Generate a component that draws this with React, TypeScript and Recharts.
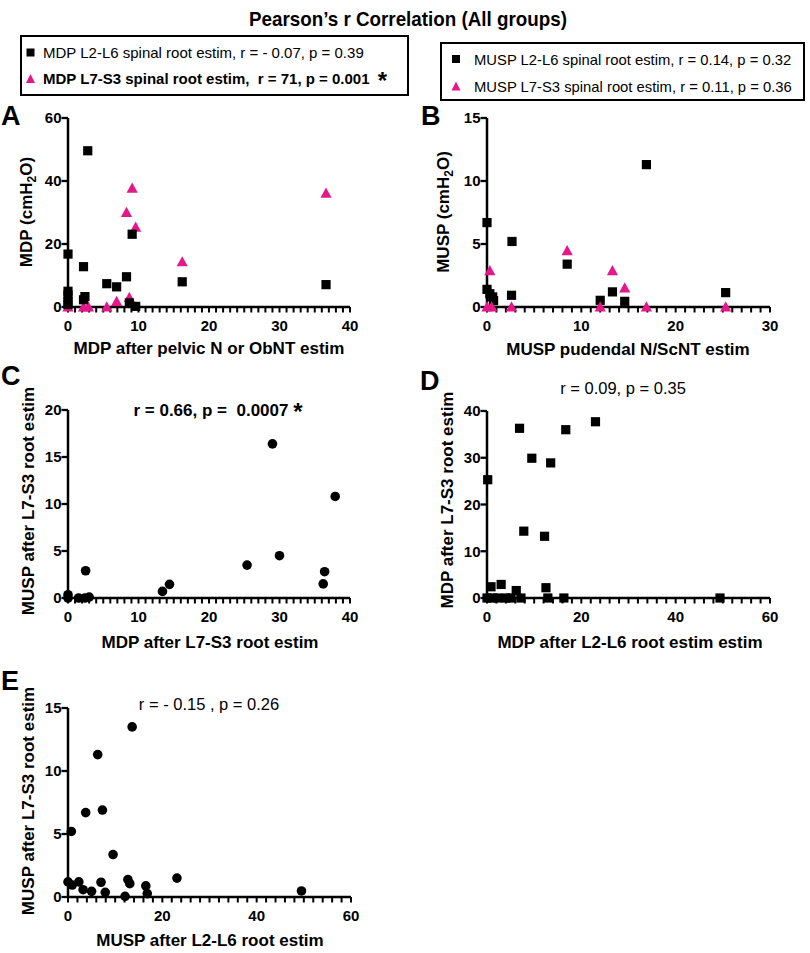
import { Scatter, ScatterChart, XAxis, YAxis } from "recharts";

const PINK = "#e5188b";
const FONT = "Arial, 'Liberation Sans', Helvetica, sans-serif";

// Panel A: MDP vs MDP after pelvic N / ObNT estim
const aL2L6X = [2.8, 0, 2.2, 5.5, 6.9, 8.3, 9.1, 16.2, 36.6, 0, 0, 0, 0, 2.4, 2.2, 8.7, 9.6];
const aL2L6Y = [49.6, 16.8, 12.8, 7.4, 6.4, 9.6, 23.1, 8.0, 7.1, 5.0, 3.8, 1.8, 0.8, 3.3, 2.3, 1.3, 0.2];
const aL7S3X = [9.1, 8.3, 9.6, 16.2, 36.6, 6.9, 8.7, 5.5, 2.2, 2.9, 0];
const aL7S3Y = [37.7, 30.0, 25.3, 14.3, 36.1, 1.7, 3.0, 0, 0, 0, 0];

// Panel B: MUSP vs MUSP pudendal N / ScNT estim
const bL2L6X = [0, 0, 0.3, 0.6, 0.7, 2.6, 2.65, 8.5, 12.0, 13.3, 14.6, 16.9, 25.3];
const bL2L6Y = [6.7, 1.4, 1.05, 0.8, 0.5, 0.93, 5.2, 3.4, 0.53, 1.2, 0.45, 11.3, 1.14];
const bL7S3X = [0.3, 0, 0.5, 2.6, 8.5, 12.0, 13.3, 14.6, 16.9, 25.3];
const bL7S3Y = [2.87, 0, 0, 0, 4.46, 0, 2.87, 1.5, 0, 0];

// Panel C
const cX = [0, 0, 1.5, 2.4, 3.0, 2.5, 13.4, 14.4, 25.4, 30.0, 36.2, 36.4, 37.9, 29.0];
const cY = [0.35, 0, 0, 0, 0.1, 2.9, 0.7, 1.45, 3.5, 4.5, 1.5, 2.8, 10.8, 16.4];

// Panel D
const dX = [0.15, 6.9, 9.5, 13.5, 16.7, 23.0, 7.8, 12.2, 0.85, 3.0, 6.2, 12.5, 0, 1.2, 2.3, 4.0, 5.1, 7.2, 12.9, 16.3, 49.4];
const dY = [25.3, 36.3, 29.9, 28.9, 36.0, 37.7, 14.3, 13.2, 2.4, 2.9, 1.6, 2.2, 0, 0, 0, 0, 0, 0, 0, 0, 0];

// Panel E
const eX = [0, 0.7, 0.9, 2.3, 3.2, 3.75, 5.0, 6.3, 7.0, 7.3, 7.9, 9.55, 12.1, 12.7, 13.1, 13.6, 16.5, 16.8, 23.1, 49.5];
const eY = [1.2, 5.2, 0.95, 1.2, 0.58, 6.7, 0.45, 11.3, 1.17, 6.9, 0.37, 3.37, 0.05, 1.38, 1.06, 13.5, 0.88, 0.27, 1.5, 0.48];

// axis ticks (majors are labelled, minors are just marks)
const x40Major = [0, 10, 20, 30, 40];
const x30Major = [0, 10, 20, 30];
const x60Major = [0, 20, 40, 60];
const yTicksA = [0, 20, 40, 60];
const yTicks15 = [0, 5, 10, 15];
const yTicksC = [0, 5, 10, 15, 20];
const yTicksD = [0, 10, 20, 30, 40];

const zip = (xs: number[], ys: number[]) => xs.map((x, i) => ({ x, y: ys[i] }));
const steps = (max: number, step: number) =>
  Array.from({ length: Math.round(max / step) + 1 }, (_, i) => i * step);

const Square = (p: any) => (
  <rect x={p.cx - 4.6} y={p.cy - 4.6} width={9.2} height={9.2} fill="#000" />
);
const Triangle = (p: any) => (
  <polygon
    points={`${p.cx},${p.cy - 5.8} ${p.cx + 5.6},${p.cy + 4.4} ${p.cx - 5.6},${p.cy + 4.4}`}
    fill={PINK}
  />
);
const Dot = (p: any) => <circle cx={p.cx} cy={p.cy} r={4.8} fill="#000" />;

// default axis sizes of recharts
const XH = 30;
const YW = 60;
const tickFont = { fill: "#000", fontSize: 15, fontWeight: 700, fontFamily: FONT };

interface Series {
  name: string;
  data: { x: number; y: number }[];
  shape: (p: any) => any;
}

interface PanelProps {
  box: number[]; // left, top, width, height
  plot: number[]; // left, top, right, bottom
  xMajor: number[];
  xStep: number;
  yTicks: number[];
  series: Series[];
}

function Panel({ box, plot, xMajor, xStep, yTicks, series }: PanelProps) {
  const [left, top, width, height] = box;
  const [pl, pt, pr, pb] = plot;
  const xMax = xMajor[xMajor.length - 1];
  const yMax = yTicks[yTicks.length - 1];

  return (
    <div style={{ position: "absolute", left, top, width, height }}>
      <ScatterChart
        width={width}
        height={height}
        margin={{
          left: pl - left - YW,
          top: pt - top,
          right: left + width - pr,
          bottom: top + height - pb - XH,
        }}
      >
        <XAxis
          type="number"
          dataKey="x"
          domain={[0, xMax]}
          ticks={steps(xMax, xStep)}
          interval={0}
          tickSize={5.5}
          tickMargin={8}
          tickLine={{ stroke: "#000", strokeWidth: 2 }}
          tick={tickFont}
          tickFormatter={(v: number) => (xMajor.includes(v) ? String(v) : "")}
          axisLine={{ stroke: "#000", strokeWidth: 2.5 }}
        />
        <YAxis
          type="number"
          dataKey="y"
          domain={[0, yMax]}
          ticks={yTicks}
          interval={0}
          tickSize={6.5}
          tickMargin={0}
          tickLine={{ stroke: "#000", strokeWidth: 2.3 }}
          tick={tickFont}
          axisLine={{ stroke: "#000", strokeWidth: 2.5 }}
        />
        {series.map((s) => (
          <Scatter key={s.name} name={s.name} data={s.data} shape={s.shape} isAnimationActive={false} />
        ))}
      </ScatterChart>
    </div>
  );
}

const txt = { fontFamily: FONT, fill: "#000", whiteSpace: "pre" as const };

function YLabel({ x, y, children }: { x: number; y: number; children: any }) {
  return (
    <text x={x} y={y} transform={`rotate(-90 ${x} ${y})`} textAnchor="middle" fontSize={17} fontWeight="bold" style={txt}>
      {children}
    </text>
  );
}

function XLabel({ x, y, children }: { x: number; y: number; children: any }) {
  return (
    <text x={x} y={y} textAnchor="middle" fontSize={17} fontWeight="bold" style={txt}>
      {children}
    </text>
  );
}

function Letter({ x, y, children }: { x: number; y: number; children: any }) {
  return (
    <text x={x} y={y} fontSize={27} fontWeight="bold" style={txt}>
      {children}
    </text>
  );
}

export default function App() {
  return (
    <div style={{ position: "relative", width: 810, height: 953, background: "#fff", fontFamily: FONT }}>
      <style>{"body{margin:0}"}</style>

      <svg width={810} height={953} style={{ position: "absolute", left: 0, top: 0 }}>
        <text x={408} y={26} textAnchor="middle" fontSize={21} fontWeight="bold" textLength={318} lengthAdjust="spacingAndGlyphs" style={txt}>
          Pearson’s r Correlation (All groups)
        </text>

        {/* legend 1 */}
        <rect x={21} y={36} width={387} height={59} fill="none" stroke="#000" strokeWidth={2} />
        <rect x={26.5} y={48.5} width={8} height={8} fill="#000" />
        <text x={43} y={58} fontSize={15} style={txt}>
          MDP L2-L6 spinal root estim, r = - 0.07, p = 0.39
        </text>
        <polygon points="30.5,74 35,83 26,83" fill={PINK} />
        <text x={43} y={84} fontSize={15} fontWeight="bold" style={txt}>
          {"MDP L7-S3 spinal root estim,  r = 71, p = 0.001  "}
          <tspan fontSize={24} dy={5}>*</tspan>
        </text>

        {/* legend 2 */}
        <rect x={441} y={43} width={363} height={57} fill="none" stroke="#000" strokeWidth={2} />
        <rect x={452} y={55} width={8} height={8} fill="#000" />
        <text x={474} y={64.5} fontSize={14.8} style={txt}>
          MUSP L2-L6 spinal root estim, r = 0.14, p = 0.32
        </text>
        <polygon points="456,81.5 460.5,90.5 451.5,90.5" fill={PINK} />
        <text x={474} y={91.5} fontSize={14.8} style={txt}>
          MUSP L7-S3 spinal root estim, r = 0.11, p = 0.36
        </text>

        {/* panel letters */}
        <Letter x={1} y={125}>A</Letter>
        <Letter x={421} y={125}>B</Letter>
        <Letter x={1} y={385}>C</Letter>
        <Letter x={420} y={390}>D</Letter>
        <Letter x={1} y={690}>E</Letter>

        {/* axis titles */}
        <YLabel x={32} y={212}>
          MDP (cmH<tspan fontSize={12} dy={4}>2</tspan>
          <tspan dy={-4}>O)</tspan>
        </YLabel>
        <XLabel x={209} y={354}>MDP after pelvic N or ObNT estim</XLabel>

        <YLabel x={449} y={212}>
          MUSP (cmH<tspan fontSize={12} dy={4}>2</tspan>
          <tspan dy={-4}>O)</tspan>
        </YLabel>
        <XLabel x={628} y={355}>MUSP pudendal N/ScNT estim</XLabel>

        <YLabel x={34} y={501}>MUSP after L7-S3 root estim</YLabel>
        <XLabel x={210} y={648}>MDP after L7-S3 root estim</XLabel>

        <YLabel x={453} y={500}>MDP after L7-S3 root estim</YLabel>
        <XLabel x={630} y={648}>MDP after L2-L6 root estim estim</XLabel>

        <YLabel x={34} y={801}>MUSP after L7-S3 root estim</YLabel>
        <XLabel x={210} y={946}>MUSP after L2-L6 root estim</XLabel>

        {/* annotations */}
        <text x={218} y={416} textAnchor="middle" fontSize={17} fontWeight="bold" style={txt}>
          {"r = 0.66, p =  0.0007 "}
          <tspan fontSize={24} dy={4}>*</tspan>
        </text>
        <text x={623} y={394} textAnchor="middle" fontSize={16.5} style={txt}>
          r = 0.09, p = 0.35
        </text>
        <text x={209} y={710} textAnchor="middle" fontSize={16.5} style={txt}>
          r = - 0.15 , p = 0.26
        </text>
      </svg>

      <Panel
        box={[0, 100, 400, 260]}
        plot={[68, 118, 350, 307]}
        xMajor={x40Major}
        xStep={1}
        yTicks={yTicksA}
        series={[
          { name: "MDP L7-S3", data: zip(aL7S3X, aL7S3Y), shape: Triangle },
          { name: "MDP L2-L6", data: zip(aL2L6X, aL2L6Y), shape: Square },
        ]}
      />
      <Panel
        box={[400, 100, 410, 260]}
        plot={[487, 118, 770, 307]}
        xMajor={x30Major}
        xStep={1}
        yTicks={yTicks15}
        series={[
          { name: "MUSP L2-L6", data: zip(bL2L6X, bL2L6Y), shape: Square },
          { name: "MUSP L7-S3", data: zip(bL7S3X, bL7S3Y), shape: Triangle },
        ]}
      />
      <Panel
        box={[0, 390, 400, 240]}
        plot={[68, 410, 350, 598]}
        xMajor={x40Major}
        xStep={1}
        yTicks={yTicksC}
        series={[{ name: "C", data: zip(cX, cY), shape: Dot }]}
      />
      <Panel
        box={[400, 390, 410, 240]}
        plot={[487, 411, 770, 598]}
        xMajor={x60Major}
        xStep={2}
        yTicks={yTicksD}
        series={[{ name: "D", data: zip(dX, dY), shape: Square }]}
      />
      <Panel
        box={[0, 690, 400, 240]}
        plot={[68, 708, 351, 897]}
        xMajor={x60Major}
        xStep={2}
        yTicks={yTicks15}
        series={[{ name: "E", data: zip(eX, eY), shape: Dot }]}
      />
    </div>
  );
}
